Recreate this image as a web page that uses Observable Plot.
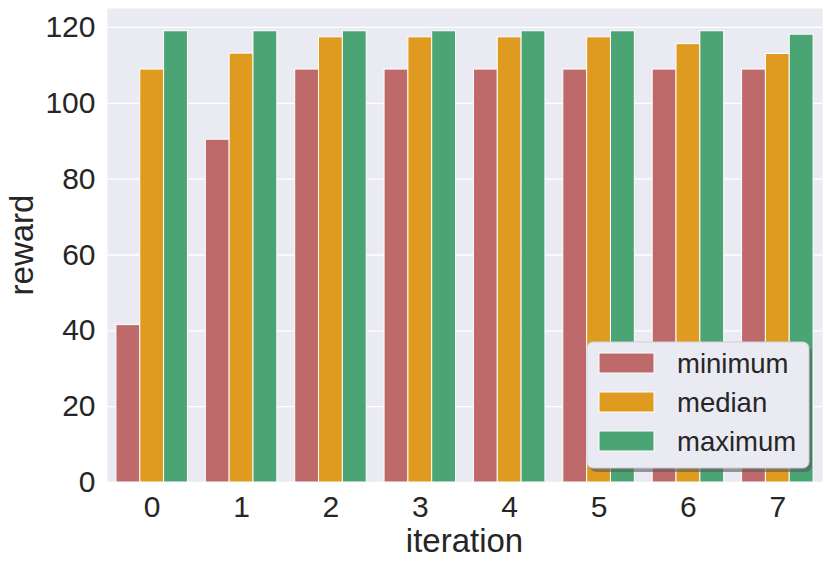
<!DOCTYPE html>
<html>
<head>
<meta charset="utf-8">
<script src="https://cdn.jsdelivr.net/npm/d3@7"></script>
<script src="https://cdn.jsdelivr.net/npm/@observablehq/plot@0.6"></script>
<style>
  html, body { margin: 0; padding: 0; background: #ffffff; }
  #chart { width: 830px; height: 565px; }
</style>
</head>
<body>
<div id="chart"></div>
<script>
// ---- data ----
const iterations = [0, 1, 2, 3, 4, 5, 6, 7];
const minimum = [41.5, 90.4, 108.9, 108.9, 108.9, 108.9, 108.9, 108.9];
const median  = [108.9, 113.1, 117.4, 117.4, 117.4, 117.4, 115.6, 113.0];
const maximum = [119.0, 119.0, 119.0, 119.0, 119.0, 119.0, 119.0, 118.1];
const seriesNames = ["minimum", "median", "maximum"];
const seriesColors = ["#bf6a6a", "#df9b20", "#4ba473"];
const yTicks = [0, 20, 40, 60, 80, 100, 120];

const seriesValues = [minimum, median, maximum];
const groupWidth = 0.8;
const barW = groupWidth / seriesNames.length;
const rows = [];
seriesNames.forEach((s, si) => {
  iterations.forEach((it, i) => {
    const center = it - groupWidth / 2 + barW * (si + 0.5);
    rows.push({series: s, iteration: it, value: seriesValues[si][i],
               x1: center - barW / 2, x2: center + barW / 2});
  });
});

const W = 830, H = 565;
const mL = 107, mR = 8, mT = 8, mB = 83;
const font = "'Liberation Sans', Arial, Helvetica, sans-serif";
const ink = "#262626";

const svg = Plot.plot({
  width: W,
  height: H,
  marginLeft: mL,
  marginRight: mR,
  marginTop: mT,
  marginBottom: mB,
  style: {fontFamily: font, background: "#ffffff", color: ink, overflow: "visible"},
  x: {domain: [-0.5, 7.5], ticks: iterations, tickFormat: d => String(d), label: null},
  y: {domain: [0, 125], ticks: yTicks, label: null},
  color: {domain: seriesNames, range: seriesColors},
  marks: [
    Plot.frame({fill: "#eaeaf2", stroke: null}),
    Plot.ruleY(yTicks, {stroke: "#ffffff", strokeWidth: 1.3}),
    Plot.rectY(rows, {x1: "x1", x2: "x2", y1: 0, y2: "value", fill: "series",
                      stroke: "#ffffff", strokeWidth: 1}),
    Plot.axisX({ticks: iterations, tickSize: 0, tickPadding: 13, fontSize: 30, label: null, tickFormat: d => String(d)}),
    Plot.axisY({ticks: yTicks, tickSize: 0, tickPadding: 12, fontSize: 30, label: null})
  ]
});

document.getElementById("chart").appendChild(svg);

const root = d3.select(svg);
root.selectAll("text").style("fill", ink);

// axis titles
const cx = (mL + (W - mR)) / 2;
const cy = (mT + (H - mB)) / 2;
root.append("text")
  .attr("x", cx).attr("y", 552)
  .attr("text-anchor", "middle")
  .style("font-family", font).style("font-size", "33px").style("fill", ink)
  .text("iteration");
root.append("text")
  .attr("transform", `translate(33,${cy}) rotate(-90)`)
  .attr("text-anchor", "middle")
  .style("font-family", font).style("font-size", "33px").style("fill", ink)
  .text("reward");

// legend
const lg = root.append("g");
const lx = 587, ly = 342, lw = 222, lh = 126;
lg.append("rect")
  .attr("x", lx + 3).attr("y", ly + 4).attr("width", lw).attr("height", lh)
  .attr("rx", 6).attr("fill", "#5a5a5a").attr("opacity", 0.6);
lg.append("rect")
  .attr("x", lx).attr("y", ly).attr("width", lw).attr("height", lh)
  .attr("rx", 6).attr("fill", "#eaeaf2").attr("stroke", "#cfcfd6").attr("stroke-width", 1);
seriesNames.forEach((s, i) => {
  const yc = 363 + i * 39;
  lg.append("rect")
    .attr("x", 599).attr("y", yc - 10).attr("width", 55).attr("height", 20)
    .attr("fill", seriesColors[i]).attr("stroke", "#ffffff").attr("stroke-width", 1);
  lg.append("text")
    .attr("x", 677).attr("y", yc + 10)
    .attr("text-anchor", "start")
    .style("text-anchor", "start")
    .style("font-family", font).style("font-size", "27.5px").style("fill", ink)
    .text(s);
});
</script>
</body>
</html>
